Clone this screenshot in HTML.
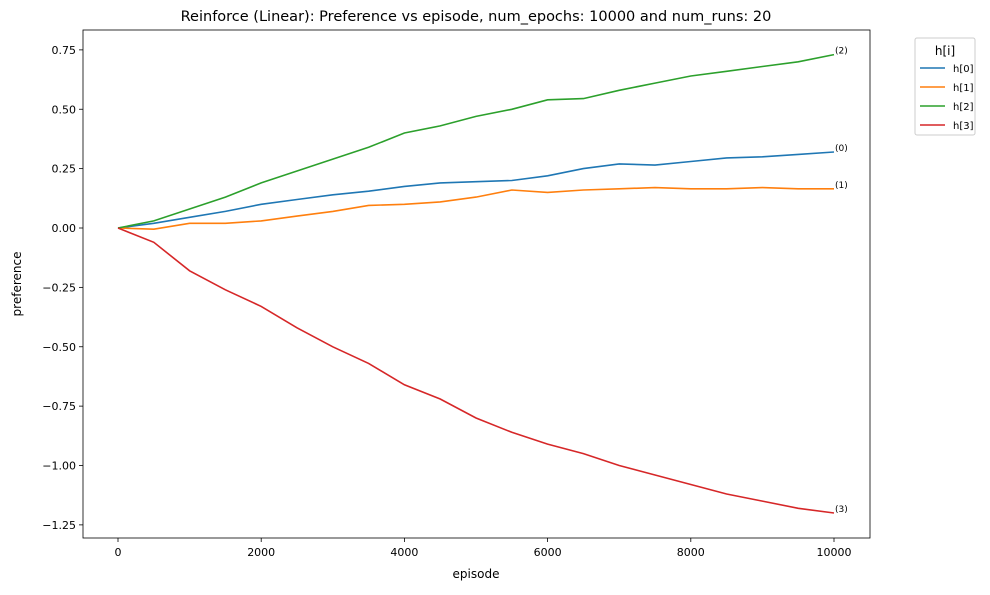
<!DOCTYPE html>
<html><head><meta charset="utf-8"><style>
body{margin:0;background:#fff;font-family:"Liberation Sans","DejaVu Sans",sans-serif;}
svg text{font-family:"DejaVu Sans","Liberation Sans",sans-serif;}
</style></head><body>
<svg id="chart" width="990" height="590" xmlns="http://www.w3.org/2000/svg">
<rect width="990" height="590" fill="#fff"/>
<text x="476" y="21" text-anchor="middle" font-size="14.5">Reinforce (Linear): Preference vs episode, num_epochs: 10000 and num_runs: 20</text>
<rect x="83" y="30" width="787" height="508" fill="none" stroke="#000" stroke-width="0.8"/>
<g id="xt"></g><g id="yt"></g><g id="series"></g>
<text x="476" y="578" text-anchor="middle" font-size="12">episode</text>
<text transform="translate(21,284) rotate(-90)" text-anchor="middle" font-size="12">preference</text>
<g>
<rect x="915" y="38" width="60" height="97" rx="2" fill="#fff" stroke="#ccc"/>
<text x="945" y="55" text-anchor="middle" font-size="12">h[i]</text>
<g id="leg"></g>
</g>
</svg>
<script>
const episodes=[0,500,1000,1500,2000,2500,3000,3500,4000,4500,5000,5500,6000,6500,7000,7500,8000,8500,9000,9500,10000];
const h0=[0,0.02,0.045,0.07,0.1,0.12,0.14,0.155,0.175,0.19,0.195,0.2,0.22,0.25,0.27,0.265,0.28,0.295,0.3,0.31,0.32];
const h1=[0,-0.005,0.02,0.02,0.03,0.05,0.07,0.095,0.1,0.11,0.13,0.16,0.15,0.16,0.165,0.17,0.165,0.165,0.17,0.165,0.165];
const h2=[0,0.03,0.08,0.13,0.19,0.24,0.29,0.34,0.4,0.43,0.47,0.5,0.54,0.545,0.58,0.61,0.64,0.66,0.68,0.7,0.73];
const h3=[0,-0.06,-0.18,-0.26,-0.33,-0.42,-0.5,-0.57,-0.66,-0.72,-0.8,-0.86,-0.91,-0.95,-1.0,-1.04,-1.08,-1.12,-1.15,-1.18,-1.2];
const xTicks=[0,2000,4000,6000,8000,10000];
const yTicks=[0.75,0.5,0.25,0,-0.25,-0.5,-0.75,-1.0,-1.25];
const seriesNames=["h[0]","h[1]","h[2]","h[3]"];
const colors=["#1f77b4","#ff7f0e","#2ca02c","#d62728"];
const NS="http://www.w3.org/2000/svg";
const X=v=>118+v*(834-118)/10000;
const Y=v=>228-v*237.5;
function mk(t,a,p){const e=document.createElementNS(NS,t);for(const k in a)e.setAttribute(k,a[k]);p.appendChild(e);return e;}
const xt=document.getElementById('xt');
xTicks.forEach(v=>{
 const l=mk('line',{x1:X(v),x2:X(v),y1:538,y2:542,stroke:'#000','stroke-width':0.8},xt);
 
 
 const t=mk('text',{x:X(v),y:556,'text-anchor':'middle','font-size':11},xt);t.textContent=v;
 
 
});
const yt=document.getElementById('yt');
yTicks.forEach(v=>{
 const l=mk('line',{x1:79,x2:83,y1:Y(v),y2:Y(v),stroke:'#000','stroke-width':0.8},yt);
 
 
 const t=mk('text',{x:76,y:Y(v)+4,'text-anchor':'end','font-size':11},yt);
 t.textContent=(v<0?'\u2212':'')+Math.abs(v).toFixed(2);
 
 
});
const sg=document.getElementById('series');
[h0,h1,h2,h3].forEach((s,i)=>{
 const d=s.map((v,j)=>(j?'L':'M')+X(episodes[j]).toFixed(1)+' '+Y(v).toFixed(1)).join(' ');
 const p=mk('path',{d:d,fill:'none',stroke:colors[i],'stroke-width':1.6},sg);
 
 
 const last=s[s.length-1];
 const t=mk('text',{x:X(episodes[episodes.length-1])+1,y:Y(last)-1,'font-size':9},sg);
 t.textContent='('+i+')';
 
 
});
const lg=document.getElementById('leg');
seriesNames.forEach((n,i)=>{
 const y=68+i*19;
 const g=mk('g',{},lg);
 
 
 mk('line',{x1:920,x2:945,y1:y,y2:y,stroke:colors[i],'stroke-width':1.6},g);
 const t=mk('text',{x:953,y:y+4,'font-size':10},g);t.textContent=n;
});
</script>
</body></html>
